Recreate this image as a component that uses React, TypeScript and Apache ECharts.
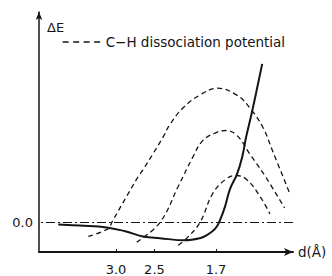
import React, { useEffect, useRef } from "react";
import * as echarts from "echarts";

// distance d (Å) and energy ΔE (arbitrary units)
const solidD = [3.75, 3.47, 3.12, 2.88, 2.65, 2.43, 2.1, 1.91, 1.82, 1.71, 1.65, 1.58, 1.52, 1.43, 1.36, 1.31, 1.23, 1.1];
const solidE = [-0.08, -0.12, -0.18, -0.31, -0.48, -0.54, -0.61, -0.54, -0.44, -0.22, 0.05, 0.54, 1.09, 1.58, 2.17, 2.82, 3.7, 5.27];

const bigD = [3.36, 3.1, 3.05, 2.86, 2.71, 2.65, 2.52, 2.39, 2.3, 2.13, 1.91, 1.68, 1.43, 1.26, 1.09, 0.97, 0.75];
const bigE = [-0.48, -0.22, 0.01, 0.86, 1.52, 1.74, 2.27, 2.82, 3.25, 3.8, 4.23, 4.46, 4.23, 3.8, 3.15, 2.4, 1.0];

const midD = [2.73, 2.43, 2.19, 2.0, 1.87, 1.69, 1.58, 1.43, 1.26, 1.06, 0.81];
const midE = [-0.67, -0.02, 1.19, 2.17, 2.72, 2.99, 3.05, 2.89, 2.26, 1.52, 0.47];

const smallD = [2.19, 2.08, 1.91, 1.74, 1.56, 1.43, 1.3, 1.13, 1.0];
const smallE = [-0.77, -0.54, -0.02, 0.96, 1.45, 1.55, 1.41, 0.86, 0.27];

const xTicks = [3.0, 2.5, 1.7];
const yTicks = [0];
const legendName = "C\u2212H dissociation potential";

const zip = (a: number[], b: number[]) => a.map((v, i) => [v, b[i]]);

export default function App() {
  const ref = useRef<HTMLDivElement>(null);
  useEffect(() => {
    if (!ref.current) return;
    const chart = echarts.init(ref.current, undefined, { renderer: "svg" });
    const ink = "#151515";
    const font = "DejaVu Sans";
    const dashed = { color: ink, width: 1.3, type: [5, 3.5] as any };
    chart.setOption({
      animation: false,
      backgroundColor: "#ffffff",
      textStyle: { fontFamily: font, color: ink },
      grid: { left: 39, right: 39, top: 12, bottom: 19, containLabel: false },
      legend: {
        left: 57,
        top: 30,
        itemWidth: 38,
        itemHeight: 10,
        data: [legendName],
        itemStyle: { opacity: 0 },
        lineStyle: { width: 1.3, type: [6, 4.5] as any },
        textStyle: { fontFamily: font, fontSize: 13.5, color: ink },
      },
      xAxis: {
        type: "value",
        inverse: true,
        min: 0.7,
        max: 4.0,
        name: "d(\u00C5)",
        nameLocation: "start",
        nameGap: 5,
        nameTextStyle: { fontFamily: font, fontSize: 13.5, color: ink, verticalAlign: "middle", align: "left" },
        axisLine: { onZero: false, lineStyle: { color: ink, width: 2 }, symbol: ["none", "arrow"], symbolSize: [6, 9] },
        axisTick: { show: true, inside: true, length: 3, customValues: xTicks, lineStyle: { color: ink, width: 1 } },
        axisLabel: { customValues: xTicks, formatter: (v: number) => v.toFixed(1), margin: 11, fontSize: 13, color: ink, fontFamily: font },
        splitLine: { show: false },
      },
      yAxis: {
        type: "value",
        min: -1,
        max: 7,
        name: "\u0394E",
        nameLocation: "end",
        nameGap: -15,
        nameTextStyle: { fontFamily: font, fontSize: 13, color: ink, align: "left", verticalAlign: "middle", padding: [0, 0, 0, 8] },
        axisLine: { onZero: false, lineStyle: { color: ink, width: 1.5 }, symbol: ["none", "arrow"], symbolSize: [5, 8] },
        axisTick: { show: false },
        axisLabel: { customValues: yTicks, formatter: (v: number) => v.toFixed(1), margin: 6, fontSize: 13, color: ink, fontFamily: font },
        splitLine: { show: false },
      },
      series: [
        {
          name: "total",
          type: "line",
          data: zip(solidD, solidE),
          smooth: 0.4,
          symbol: "none",
          lineStyle: { color: ink, width: 2 },
          markLine: {
            silent: true,
            symbol: "none",
            label: { show: false },
            lineStyle: { color: ink, width: 1, type: [9, 3, 2, 3] as any },
            data: [{ yAxis: 0 }],
          },
        },
        { name: legendName, type: "line", data: zip(bigD, bigE), smooth: 0.4, symbol: "none", lineStyle: dashed, itemStyle: { color: ink } },
        { name: legendName, type: "line", data: zip(midD, midE), smooth: 0.4, symbol: "none", lineStyle: dashed, itemStyle: { color: ink } },
        { name: legendName, type: "line", data: zip(smallD, smallE), smooth: 0.4, symbol: "none", lineStyle: dashed, itemStyle: { color: ink } },
      ],
    });
    return () => chart.dispose();
  }, []);
  return <div ref={ref} style={{ width: 332, height: 276, position: "absolute", left: 0, top: 0 }} />;
}
